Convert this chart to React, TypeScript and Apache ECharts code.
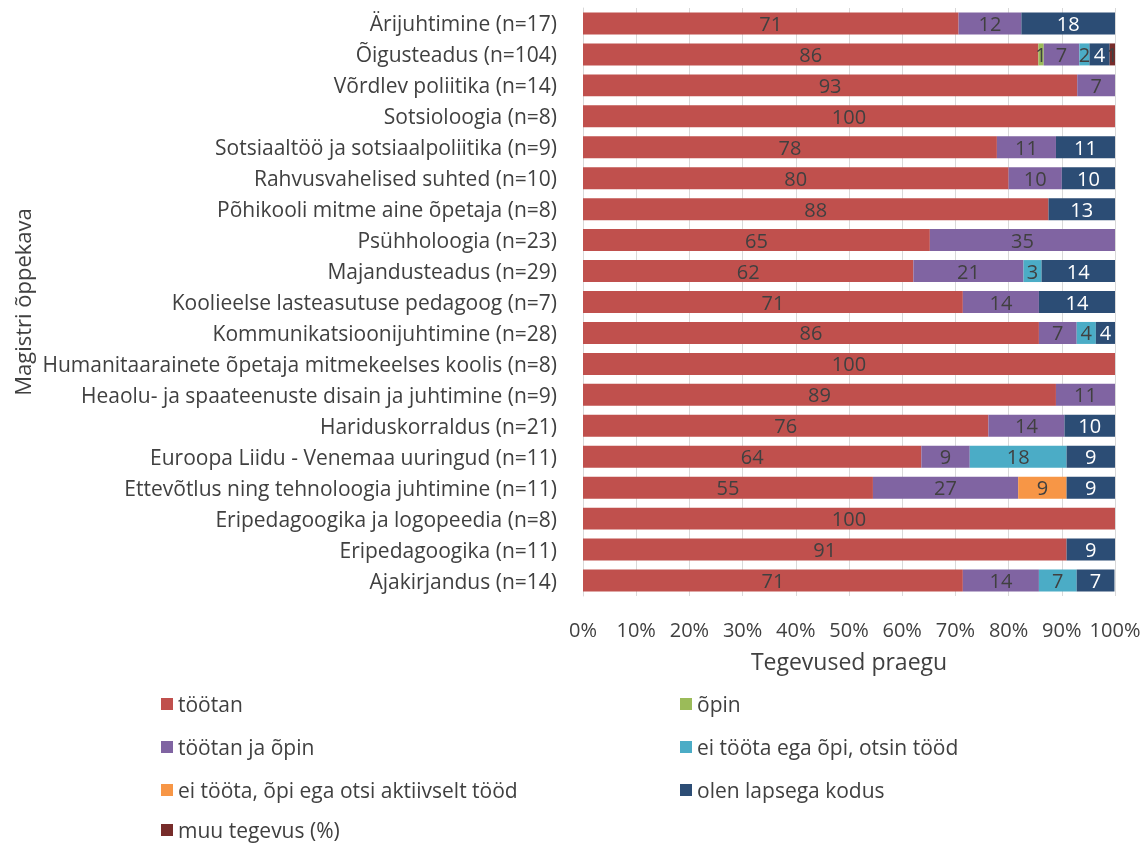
import React, { useEffect, useRef } from "react";
import * as echarts from "echarts";

const categories = [
  "Ärijuhtimine (n=17)",
  "Õigusteadus (n=104)",
  "Võrdlev poliitika (n=14)",
  "Sotsioloogia (n=8)",
  "Sotsiaaltöö ja sotsiaalpoliitika (n=9)",
  "Rahvusvahelised suhted (n=10)",
  "Põhikooli mitme aine õpetaja (n=8)",
  "Psühholoogia (n=23)",
  "Majandusteadus (n=29)",
  "Koolieelse lasteasutuse pedagoog (n=7)",
  "Kommunikatsioonijuhtimine (n=28)",
  "Humanitaarainete õpetaja mitmekeelses koolis (n=8)",
  "Heaolu- ja spaateenuste disain ja juhtimine (n=9)",
  "Hariduskorraldus (n=21)",
  "Euroopa Liidu - Venemaa uuringud (n=11)",
  "Ettevõtlus ning tehnoloogia juhtimine (n=11)",
  "Eripedagoogika ja logopeedia (n=8)",
  "Eripedagoogika (n=11)",
  "Ajakirjandus (n=14)",
];

const seriesNames = [
  "töötan",
  "õpin",
  "töötan ja õpin",
  "ei tööta ega õpi, otsin tööd",
  "ei tööta, õpi ega otsi aktiivselt tööd",
  "olen lapsega kodus",
  "muu tegevus (%)",
];

const tootan = [70.6, 85.6, 92.9, 100, 77.8, 80, 87.5, 65.2, 62.1, 71.4, 85.7, 100, 88.9, 76.2, 63.6, 54.5, 100, 90.9, 71.4];
const opin = [0, 1.0, 0, 0, 0, 0, 0, 0, 0, 0, 0, 0, 0, 0, 0, 0, 0, 0, 0];
const tootanJaOpin = [11.8, 6.7, 7.1, 0, 11.1, 10, 0, 34.8, 20.7, 14.3, 7.1, 0, 11.1, 14.3, 9.1, 27.3, 0, 0, 14.3];
const otsinTood = [0, 1.9, 0, 0, 0, 0, 0, 0, 3.4, 0, 3.6, 0, 0, 0, 18.2, 0, 0, 0, 7.1];
const eiOtsi = [0, 0, 0, 0, 0, 0, 0, 0, 0, 0, 0, 0, 0, 0, 0, 9.1, 0, 0, 0];
const lapsegaKodus = [17.6, 3.8, 0, 0, 11.1, 10, 12.5, 0, 13.8, 14.3, 3.6, 0, 0, 9.5, 9.1, 9.1, 0, 9.1, 7.1];
const muu = [0, 1.0, 0, 0, 0, 0, 0, 0, 0, 0, 0, 0, 0, 0, 0, 0, 0, 0, 0];

const xTicks = [0, 10, 20, 30, 40, 50, 60, 70, 80, 90, 100];

const allValues = [tootan, opin, tootanJaOpin, otsinTood, eiOtsi, lapsegaKodus, muu];
const colors = ["#C0504D", "#9BBB59", "#8064A2", "#4BACC6", "#F79646", "#2C4D75", "#772C2A"];
const labelColors = ["#404040", "#404040", "#404040", "#404040", "#404040", "#FFFFFF", "#404040"];

// legend placement: [left, centerY] for each series
const legendPos: [number, number][] = [
  [161, 704],
  [680, 704],
  [161, 747],
  [680, 747],
  [161, 790],
  [680, 790],
  [161, 830],
];

const FONT = "Open Sans";
const TXT = "#404040";

export default function App() {
  const ref = useRef<HTMLDivElement>(null);
  useEffect(() => {
    if (!ref.current) return;
    const chart = echarts.init(ref.current, null, { renderer: "svg" });
    const series = seriesNames.map((name, i) => ({
      name,
      type: "bar",
      stack: "total",
      barWidth: "71%",
      data: allValues[i].map((v) => (v > 0 ? v : null)),
      itemStyle: { color: colors[i] },
      label: {
        show: true,
        position: "inside",
        color: labelColors[i],
        fontFamily: FONT,
        fontSize: 20,
        formatter: (p: any) => (p.value ? String(Math.round(p.value)) : ""),
      },
    }));
    const legends = seriesNames.map((name, i) => ({
      orient: "horizontal",
      left: legendPos[i][0],
      top: legendPos[i][1] - 11,
      padding: 0,
      itemWidth: 12,
      itemHeight: 12,
      icon: "rect",
      data: [name],
      textStyle: { color: TXT, fontSize: 21, fontFamily: FONT, lineHeight: 22, padding: [0, 0, 0, 0] },
    }));
    chart.setOption({
      animation: false,
      textStyle: { fontFamily: FONT },
      grid: { left: 583, right: 30, top: 8, height: 588, containLabel: false },
      xAxis: {
        type: "value",
        min: xTicks[0],
        max: xTicks[xTicks.length - 1],
        interval: 10,
        axisLabel: { formatter: "{value}%", color: TXT, fontSize: 20, fontFamily: FONT, margin: 23 },
        splitLine: { show: true, lineStyle: { color: "#D9D9D9" } },
        axisLine: { show: false },
        axisTick: { show: false },
        name: "Tegevused praegu",
        nameLocation: "middle",
        nameGap: 53,
        nameTextStyle: { color: TXT, fontSize: 23, fontFamily: FONT },
      },
      yAxis: {
        type: "category",
        inverse: true,
        data: categories,
        axisLabel: { color: TXT, fontSize: 21, fontFamily: FONT, margin: 26 },
        axisLine: { show: true, lineStyle: { color: "#D9D9D9" } },
        axisTick: { show: false },
      },
      legend: legends,
      graphic: [
        {
          type: "text",
          x: 22,
          y: 302,
          rotation: Math.PI / 2,
          style: {
            text: "Magistri õppekava",
            fill: TXT,
            fontSize: 22,
            fontFamily: FONT,
            align: "center",
            verticalAlign: "middle",
          },
        },
      ],
      series,
    });
    return () => chart.dispose();
  }, []);
  return (
    <div
      ref={ref}
      style={{ position: "fixed", left: 0, top: 0, width: 1145, height: 845 }}
    />
  );
}
